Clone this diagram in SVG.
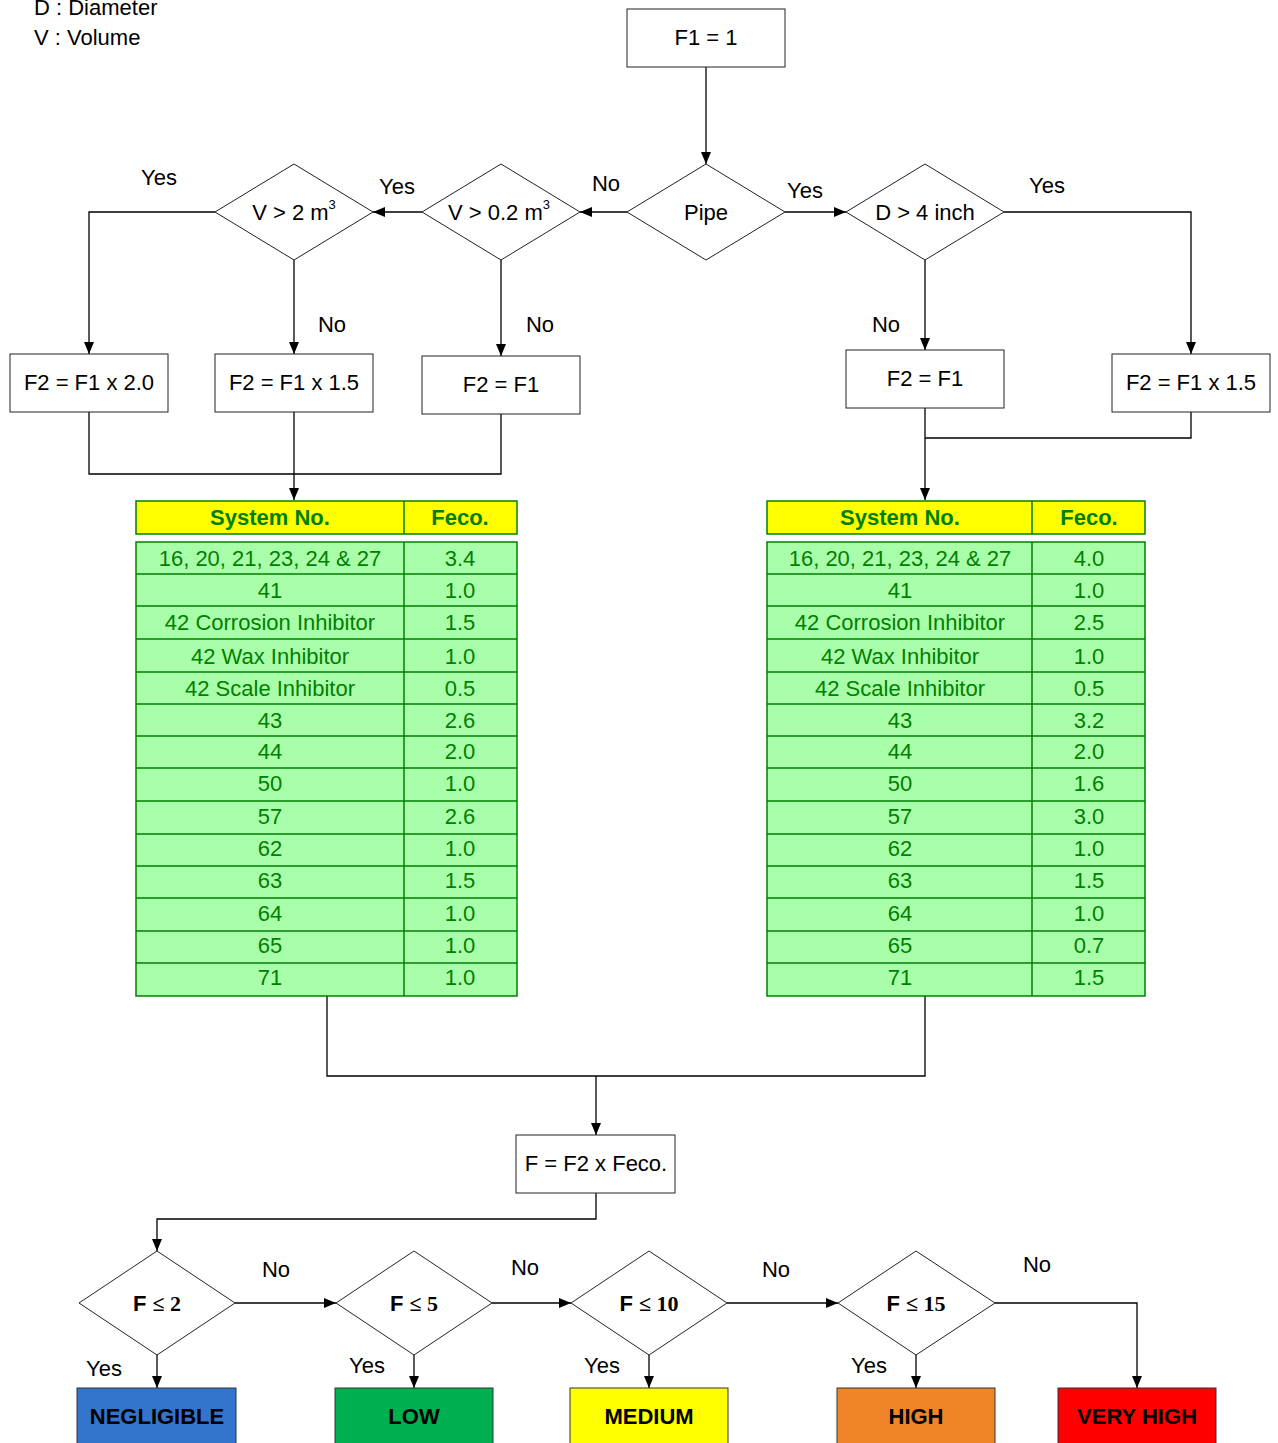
<svg xmlns="http://www.w3.org/2000/svg" width="1278" height="1443" viewBox="0 0 1278 1443">
  <defs>
    <marker id="arrow" markerUnits="userSpaceOnUse" markerWidth="12" markerHeight="10" refX="12" refY="5" orient="auto">
      <path d="M0,0 L12,5 L0,10 z" fill="#000"/>
    </marker>
    <style>
      text { font-family: "Liberation Sans", Arial, sans-serif; }
      .t { font-size: 22px; fill: #000; text-anchor: middle; }
      .lbl { font-size: 22px; fill: #000; text-anchor: middle; }
      .box { fill: #fff; stroke: #222; stroke-width: 1; }
      .dia { fill: #fff; stroke: #222; stroke-width: 1; }
      .con { fill: none; stroke: #000; stroke-width: 1.3; }
      .arr { marker-end: url(#arrow); }
      .hdr { fill: #ffff00; stroke: #008000; stroke-width: 1.5; }
      .body { fill: #a9ffa9; stroke: #008000; stroke-width: 1.5; }
      .grid { stroke: #008000; stroke-width: 1.5; fill: none; }
      .ht { font-size: 22px; font-weight: bold; fill: #008000; text-anchor: middle; }
      .ct { font-size: 22px; fill: #008000; text-anchor: middle; }
      .res { stroke: #333; stroke-width: 1; }
      .rt { font-size: 22px; font-weight: bold; fill: #000; text-anchor: middle; }
      .cond { font-size: 22px; font-weight: bold; fill: #000; }
      .num { font-family: "Liberation Serif", "Times New Roman", serif; }
    </style>
  </defs>

  <!-- legend -->
  <g id="legend">
    <text x="34" y="15" font-size="22">D : Diameter</text>
    <text x="34" y="45" font-size="22">V : Volume</text>
  </g>

  <!-- connectors -->
  <g id="connectors">
    <path class="con arr" d="M706,67 V164"/>
    <path class="con arr" d="M627,212 H580"/>
    <path class="con arr" d="M422,212 H373"/>
    <path class="con arr" d="M785,212 H846"/>
    <path class="con arr" d="M215,212 H89 V354"/>
    <path class="con arr" d="M294,260 V354"/>
    <path class="con arr" d="M501,260 V356"/>
    <path class="con arr" d="M925,260 V350"/>
    <path class="con arr" d="M1004,212 H1191 V354"/>
    <path class="con" d="M89,412 V474 H501 V414"/>
    <path class="con arr" d="M294,412 V500"/>
    <path class="con arr" d="M925,408 V500"/>
    <path class="con" d="M1191,412 V438 H925"/>
    <path class="con" d="M327,996 V1076 H925 V996"/>
    <path class="con arr" d="M596,1076 V1135"/>
    <path class="con arr" d="M596,1193 V1219 H157 V1251"/>
    <path class="con arr" d="M235,1303 H336"/>
    <path class="con arr" d="M492,1303 H571"/>
    <path class="con arr" d="M727,1303 H838"/>
    <path class="con arr" d="M995,1303 H1137 V1388"/>
    <path class="con arr" d="M157,1355 V1388"/>
    <path class="con arr" d="M414,1355 V1388"/>
    <path class="con arr" d="M649,1355 V1388"/>
    <path class="con arr" d="M916,1355 V1388"/>
  </g>

  <!-- connector labels -->
  <g id="connector-labels" class="lbl">
    <text class="lbl" x="159" y="185">Yes</text>
    <text class="lbl" x="397" y="194">Yes</text>
    <text class="lbl" x="606" y="191">No</text>
    <text class="lbl" x="805" y="198">Yes</text>
    <text class="lbl" x="1047" y="193">Yes</text>
    <text class="lbl" x="332" y="332">No</text>
    <text class="lbl" x="540" y="332">No</text>
    <text class="lbl" x="886" y="332">No</text>
    <text class="lbl" x="276" y="1277">No</text>
    <text class="lbl" x="525" y="1275">No</text>
    <text class="lbl" x="776" y="1277">No</text>
    <text class="lbl" x="1037" y="1272">No</text>
    <text class="lbl" x="104" y="1376">Yes</text>
    <text class="lbl" x="367" y="1373">Yes</text>
    <text class="lbl" x="602" y="1373">Yes</text>
    <text class="lbl" x="869" y="1373">Yes</text>
  </g>

  <!-- process boxes -->
  <g id="f1">
    <rect class="box" x="627" y="9" width="158" height="58"/>
    <text class="t" x="706" y="45">F1 = 1</text>
  </g>
  <g id="f2-x2">
    <rect class="box" x="10" y="354" width="158" height="58"/>
    <text class="t" x="89" y="390">F2 = F1 x 2.0</text>
  </g>
  <g id="f2-x15-left">
    <rect class="box" x="215" y="354" width="158" height="58"/>
    <text class="t" x="294" y="390">F2 = F1 x 1.5</text>
  </g>
  <g id="f2-eq-left">
    <rect class="box" x="422" y="356" width="158" height="58"/>
    <text class="t" x="501" y="392">F2 = F1</text>
  </g>
  <g id="f2-eq-right">
    <rect class="box" x="846" y="350" width="158" height="58"/>
    <text class="t" x="925" y="386">F2 = F1</text>
  </g>
  <g id="f2-x15-right">
    <rect class="box" x="1112" y="354" width="158" height="58"/>
    <text class="t" x="1191" y="390">F2 = F1 x 1.5</text>
  </g>
  <g id="f-final">
    <rect class="box" x="516" y="1135" width="159" height="58"/>
    <text class="t" x="596" y="1171">F = F2 x Feco.</text>
  </g>

  <!-- decisions -->
  <g id="pipe">
    <polygon class="dia" points="706,164 785,212 706,260 627,212"/>
    <text class="t" x="706" y="220">Pipe</text>
  </g>
  <g id="v-02">
    <polygon class="dia" points="501,164 580,212 501,260 422,212"/>
    <text class="t" x="499" y="220">V &gt; 0.2 m<tspan font-size="13" dy="-11">3</tspan></text>
  </g>
  <g id="v-2">
    <polygon class="dia" points="294,164 373,212 294,260 215,212"/>
    <text class="t" x="294" y="220">V &gt; 2 m<tspan font-size="13" dy="-11">3</tspan></text>
  </g>
  <g id="d-4">
    <polygon class="dia" points="925,164 1004,212 925,260 846,212"/>
    <text class="t" x="925" y="220">D &gt; 4 inch</text>
  </g>

  <!-- left Feco table (pipe: No) -->
  <g id="table-left">
    <rect class="hdr" x="136" y="501" width="381" height="33"/>
    <line class="grid" x1="404" y1="501" x2="404" y2="534"/>
    <text class="ht" x="270" y="525">System No.</text>
    <text class="ht" x="460" y="525">Feco.</text>
    <rect class="body" x="136" y="542" width="381" height="454"/>
    <path class="grid" d="M404,542 V996 M136,574 H517 M136,606 H517 M136,639 H517 M136,672 H517 M136,704 H517 M136,736 H517 M136,768 H517 M136,801 H517 M136,834 H517 M136,866 H517 M136,898 H517 M136,931 H517 M136,963 H517"/>
    <g class="ct">
      <text class="ct" x="270" y="566">16, 20, 21, 23, 24 &amp; 27</text><text class="ct" x="460" y="566">3.4</text>
      <text class="ct" x="270" y="598">41</text><text class="ct" x="460" y="598">1.0</text>
      <text class="ct" x="270" y="630">42 Corrosion Inhibitor</text><text class="ct" x="460" y="630">1.5</text>
      <text class="ct" x="270" y="664">42 Wax Inhibitor</text><text class="ct" x="460" y="664">1.0</text>
      <text class="ct" x="270" y="696">42 Scale Inhibitor</text><text class="ct" x="460" y="696">0.5</text>
      <text class="ct" x="270" y="728">43</text><text class="ct" x="460" y="728">2.6</text>
      <text class="ct" x="270" y="759">44</text><text class="ct" x="460" y="759">2.0</text>
      <text class="ct" x="270" y="791">50</text><text class="ct" x="460" y="791">1.0</text>
      <text class="ct" x="270" y="824">57</text><text class="ct" x="460" y="824">2.6</text>
      <text class="ct" x="270" y="856">62</text><text class="ct" x="460" y="856">1.0</text>
      <text class="ct" x="270" y="888">63</text><text class="ct" x="460" y="888">1.5</text>
      <text class="ct" x="270" y="921">64</text><text class="ct" x="460" y="921">1.0</text>
      <text class="ct" x="270" y="953">65</text><text class="ct" x="460" y="953">1.0</text>
      <text class="ct" x="270" y="985">71</text><text class="ct" x="460" y="985">1.0</text>
    </g>
  </g>

  <!-- right Feco table (pipe: Yes) -->
  <g id="table-right">
    <rect class="hdr" x="767" y="501" width="378" height="33"/>
    <line class="grid" x1="1032" y1="501" x2="1032" y2="534"/>
    <text class="ht" x="900" y="525">System No.</text>
    <text class="ht" x="1089" y="525">Feco.</text>
    <rect class="body" x="767" y="542" width="378" height="454"/>
    <path class="grid" d="M1032,542 V996 M767,574 H1145 M767,606 H1145 M767,639 H1145 M767,672 H1145 M767,704 H1145 M767,736 H1145 M767,768 H1145 M767,801 H1145 M767,834 H1145 M767,866 H1145 M767,898 H1145 M767,931 H1145 M767,963 H1145"/>
    <g class="ct">
      <text class="ct" x="900" y="566">16, 20, 21, 23, 24 &amp; 27</text><text class="ct" x="1089" y="566">4.0</text>
      <text class="ct" x="900" y="598">41</text><text class="ct" x="1089" y="598">1.0</text>
      <text class="ct" x="900" y="630">42 Corrosion Inhibitor</text><text class="ct" x="1089" y="630">2.5</text>
      <text class="ct" x="900" y="664">42 Wax Inhibitor</text><text class="ct" x="1089" y="664">1.0</text>
      <text class="ct" x="900" y="696">42 Scale Inhibitor</text><text class="ct" x="1089" y="696">0.5</text>
      <text class="ct" x="900" y="728">43</text><text class="ct" x="1089" y="728">3.2</text>
      <text class="ct" x="900" y="759">44</text><text class="ct" x="1089" y="759">2.0</text>
      <text class="ct" x="900" y="791">50</text><text class="ct" x="1089" y="791">1.6</text>
      <text class="ct" x="900" y="824">57</text><text class="ct" x="1089" y="824">3.0</text>
      <text class="ct" x="900" y="856">62</text><text class="ct" x="1089" y="856">1.0</text>
      <text class="ct" x="900" y="888">63</text><text class="ct" x="1089" y="888">1.5</text>
      <text class="ct" x="900" y="921">64</text><text class="ct" x="1089" y="921">1.0</text>
      <text class="ct" x="900" y="953">65</text><text class="ct" x="1089" y="953">0.7</text>
      <text class="ct" x="900" y="985">71</text><text class="ct" x="1089" y="985">1.5</text>
    </g>
  </g>

  <!-- rating decisions -->
  <g id="f-le-2">
    <polygon class="dia" points="157,1251 235,1303 157,1355 79,1303"/>
    <text class="cond" x="157" y="1311" text-anchor="middle">F <tspan class="num">≤ 2</tspan></text>
  </g>
  <g id="f-le-5">
    <polygon class="dia" points="414,1251 492,1303 414,1355 336,1303"/>
    <text class="cond" x="414" y="1311" text-anchor="middle">F <tspan class="num">≤ 5</tspan></text>
  </g>
  <g id="f-le-10">
    <polygon class="dia" points="649,1251 727,1303 649,1355 571,1303"/>
    <text class="cond" x="649" y="1311" text-anchor="middle">F <tspan class="num">≤ 10</tspan></text>
  </g>
  <g id="f-le-15">
    <polygon class="dia" points="916,1251 995,1303 916,1355 838,1303"/>
    <text class="cond" x="916" y="1311" text-anchor="middle">F <tspan class="num">≤ 15</tspan></text>
  </g>

  <!-- rating results -->
  <g id="negligible">
    <rect class="res" x="77" y="1388" width="159" height="60" fill="#3374cc"/>
    <text class="rt" x="157" y="1424">NEGLIGIBLE</text>
  </g>
  <g id="low">
    <rect class="res" x="335" y="1388" width="158" height="60" fill="#00b050"/>
    <text class="rt" x="414" y="1424">LOW</text>
  </g>
  <g id="medium">
    <rect class="res" x="570" y="1388" width="158" height="60" fill="#ffff00"/>
    <text class="rt" x="649" y="1424">MEDIUM</text>
  </g>
  <g id="high">
    <rect class="res" x="837" y="1388" width="158" height="60" fill="#f08428"/>
    <text class="rt" x="916" y="1424">HIGH</text>
  </g>
  <g id="very-high">
    <rect class="res" x="1058" y="1388" width="158" height="60" fill="#ff0000"/>
    <text class="rt" x="1137" y="1424">VERY HIGH</text>
  </g>
</svg>
